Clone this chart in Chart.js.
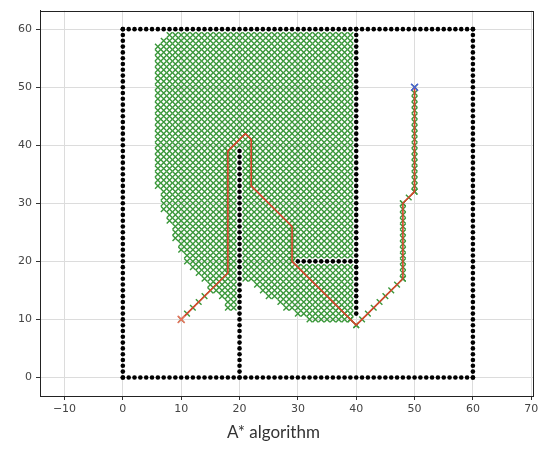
<!DOCTYPE html>
<html>
<head>
<meta charset="utf-8">
<script src="https://cdn.jsdelivr.net/npm/chart.js@4.4.0/dist/chart.umd.min.js"></script>
<style>
    html, body { margin: 0; padding: 0; background: #fff; }
    #wrap { position: relative; width: 547px; height: 454px; }
    #caption { position: absolute; left: 0; top: 421px; width: 547px; text-align: center;
               font: 17px Lato, "Open Sans", sans-serif; color: #333; }
</style>
</head>
<body>
<div id="wrap">
    <canvas id="chart" width="547" height="454"></canvas>
    <div id="caption">A* algorithm</div>
</div>
<script>
// tick labels
const xTicks = [-10, 0, 10, 20, 30, 40, 50, 60, 70];
const yTicks = [0, 10, 20, 30, 40, 50, 60];

// start and goal
const startPoint = { x: 10, y: 10 };
const goalPoint = { x: 50, y: 50 };

// obstacle walls (one dot per grid cell between the ends)
const wallX0 = [0, 60, 0, 0, 20, 40, 30];
const wallY0 = [0, 0, 60, 0, 0, 11, 20];
const wallX1 = [60, 60, 60, 0, 20, 40, 40];
const wallY1 = [0, 60, 60, 60, 39, 60, 20];

// explored cells, stored as row spans: row y, first x, last x
const spanY = [59, 58, 57, 56, 55, 54, 53, 52, 51, 50, 49, 48, 47, 46, 45, 44, 43, 42, 41, 40,
    39, 39, 38, 38, 37, 37, 36, 36, 35, 35, 34, 34, 33, 33, 32, 32, 31, 31, 30, 30,
    29, 29, 28, 28, 27, 27, 26, 26, 25, 25, 24, 24, 23, 23, 22, 22, 21, 21, 20, 20,
    19, 19, 18, 18, 17, 17, 16, 16, 15, 15, 14, 14, 13, 13, 12, 12, 11, 10];
const spanX0 = [8, 7, 6, 6, 6, 6, 6, 6, 6, 6, 6, 6, 6, 6, 6, 6, 6, 6, 6, 6,
    6, 21, 6, 21, 6, 21, 6, 21, 6, 21, 6, 21, 6, 21, 7, 21, 7, 21, 7, 21,
    7, 21, 8, 21, 8, 21, 9, 21, 9, 21, 9, 21, 10, 21, 10, 21, 11, 21, 11, 21,
    12, 21, 13, 21, 14, 21, 15, 23, 16, 24, 17, 25, 18, 27, 18, 28, 30, 32];
const spanX1 = [39, 39, 39, 39, 39, 39, 39, 39, 39, 39, 39, 39, 39, 39, 39, 39, 39, 39, 39, 39,
    19, 39, 19, 39, 19, 39, 19, 39, 19, 39, 19, 39, 19, 39, 19, 39, 19, 39, 19, 39,
    19, 39, 19, 39, 19, 39, 19, 39, 19, 39, 19, 39, 19, 39, 19, 39, 19, 39, 19, 29,
    19, 39, 19, 39, 19, 39, 19, 39, 19, 39, 19, 39, 19, 39, 19, 39, 39, 39];

// final path corners (grid moves between them)
const pathX = [10, 18, 18, 21, 22, 22, 29, 29, 40, 48, 48, 50, 50];
const pathY = [10, 18, 39, 42, 41, 33, 26, 20, 9, 17, 30, 32, 50];

function cellsBetween(x0, y0, x1, y1) {
    const pts = [];
    const n = Math.max(Math.abs(x1 - x0), Math.abs(y1 - y0));
    const dx = Math.sign(x1 - x0), dy = Math.sign(y1 - y0);
    for (let i = 0; i <= n; i++) pts.push({ x: x0 + dx * i, y: y0 + dy * i });
    return pts;
}

const obstacles = [];
wallX0.forEach((_, i) => obstacles.push(...cellsBetween(wallX0[i], wallY0[i], wallX1[i], wallY1[i])));

const explored = [];
spanY.forEach((y, i) => explored.push(...cellsBetween(spanX0[i], y, spanX1[i], y)));

const pathLine = pathX.map((x, i) => ({ x: x, y: pathY[i] }));
for (let i = 0; i < pathX.length - 1; i++) {
    explored.push(...cellsBetween(pathX[i], pathY[i], pathX[i + 1], pathY[i + 1]));
}

// box around the plot area
const frame = {
    id: 'frame',
    afterDatasetsDraw(chart) {
        const a = chart.chartArea, c = chart.ctx;
        c.save();
        c.strokeStyle = '#222';
        c.lineWidth = 1;
        c.strokeRect(Math.round(a.left) + 0.5, Math.round(a.top) + 0.5,
            Math.round(a.right - a.left), Math.round(a.bottom - a.top));
        c.restore();
    }
};

const tickFont = { family: 'DejaVu Sans', size: 11 };

new Chart(document.getElementById('chart').getContext('2d'), {
    type: 'scatter',
    data: {
        datasets: [
            { data: [goalPoint], pointStyle: 'crossRot', pointRadius: 5, borderColor: '#4a5fd6', borderWidth: 1.5 },
            { data: [startPoint], pointStyle: 'crossRot', pointRadius: 5, borderColor: '#e8735f', borderWidth: 1.5 },
            { data: pathLine, showLine: true, borderColor: '#d8452c', borderWidth: 1.6, pointRadius: 0 },
            { data: obstacles, pointStyle: 'circle', pointRadius: 2.3, backgroundColor: '#000', borderWidth: 0 },
            { data: explored, pointStyle: 'crossRot', pointRadius: 4, borderColor: '#3a973a', borderWidth: 1.4 }
        ]
    },
    options: {
        responsive: false,
        animation: false,
        events: [],
        layout: { padding: { left: 0, right: 14, top: 7, bottom: 0 } },
        plugins: { legend: { display: false }, tooltip: { enabled: false } },
        scales: {
            x: {
                type: 'linear', min: -14.2, max: 70.3,
                afterBuildTicks: s => { s.ticks = xTicks.map(v => ({ value: v })); },
                afterFit: s => { s.height = 58; },
                grid: { color: '#dcdcdc', tickLength: 4, tickColor: '#333' },
                border: { color: '#222' },
                ticks: { font: tickFont, color: '#444', padding: 3, maxRotation: 0,
                         callback: v => v < 0 ? '\u2212' + Math.abs(v) : v }
            },
            y: {
                type: 'linear', min: -3.2, max: 63.2,
                afterBuildTicks: s => { s.ticks = yTicks.map(v => ({ value: v })); },
                afterFit: s => { s.width = 40; },
                grid: { color: '#dcdcdc', tickLength: 4, tickColor: '#333' },
                border: { color: '#222' },
                ticks: { font: tickFont, color: '#444', padding: 4 }
            }
        }
    },
    plugins: [frame]
});
</script>
</body>
</html>
